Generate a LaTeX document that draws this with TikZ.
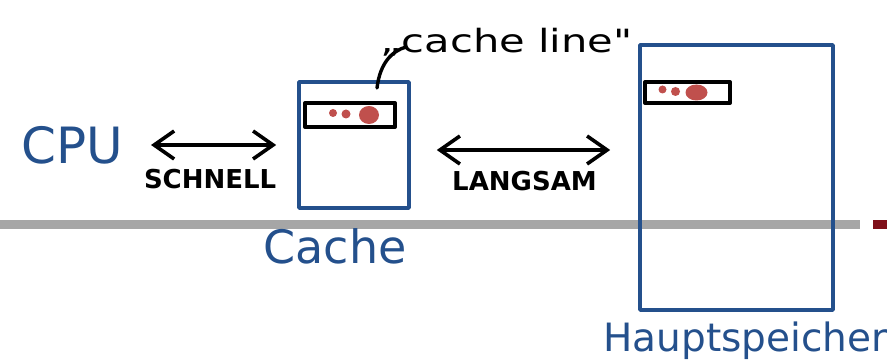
\documentclass[tikz,border=0pt]{standalone}
\usepackage{fontspec}
\setmainfont{DejaVu Sans}
\newfontfamily\handfont{DejaVu Sans}
\newfontfamily\handwide[FakeStretch=1.3]{DejaVu Sans}
\usetikzlibrary{arrows.meta,positioning}
\definecolor{penblue}{HTML}{24508C}
\definecolor{penred}{HTML}{C0504D}
\definecolor{bandgray}{HTML}{A6A6A6}
\definecolor{darkred}{HTML}{7F1019}

\begin{document}
\begin{tikzpicture}[x=1pt,y=-1pt,>={Straight Barb[length=20pt,width=28pt,line width=3.6pt]},line cap=round,line join=round]
  \tikzstyle{store}=[draw=penblue,line width=3.6pt,inner sep=0pt]
  \tikzstyle{cline}=[draw=black,line width=4pt,inner sep=0pt]
  \tikzstyle{hand}=[text=penblue,inner sep=0pt]
  \tikzstyle{speed}=[font=\bfseries\fontsize{26}{26}\selectfont,inner sep=0pt]
  \tikzstyle{dbl}=[line width=3.6pt,<->]
  \tikzstyle{blob}=[fill=penred,draw=none]
  \useasboundingbox (0,0) rectangle (887,363);
  % trennlinie
  \fill[bandgray] (0,220) rectangle (860,229);
  \fill[darkred] (873,220) rectangle (887,229);
  % speicher
  \node[store,minimum width=110pt,minimum height=126pt] (cache) at (354,145) {};
  \node[store,minimum width=193pt,minimum height=265pt] (mem) at (736.5,177.5) {};
  \node[cline,minimum width=90pt,minimum height=24pt] (line) at (350,115) {};
  \node[cline,minimum width=85pt,minimum height=21pt] (mline) at (687.5,92.5) {};
  \fill[blob] ([xshift=-17pt,yshift=2pt]line.center) circle (4);
  \fill[blob] ([xshift=-4pt,yshift=1pt]line.center) circle (4.5);
  \fill[blob] ([xshift=19pt]line.center) ellipse (10 and 9);
  \fill[blob] ([xshift=-25pt,yshift=3pt]mline.center) circle (4);
  \fill[blob] ([xshift=-12pt,yshift=1pt]mline.center) circle (4.5);
  \fill[blob] ([xshift=9pt]mline.center) ellipse (11 and 8);
  % beschriftung
  \node[hand,font=\handfont\fontsize{50}{50}\selectfont] (cpu) at (72,145) {CPU};
  \node[hand,font=\handfont\fontsize{46}{46}\selectfont,below=19pt of cache,xshift=-19pt] (cachelbl) {Cache};
  \node[hand,font=\handfont\fontsize{39}{39}\selectfont,below=10pt of mem,xshift=9pt] (memlbl) {Hauptspeicher};
  \node[inner sep=0pt,anchor=base west,font=\handwide\fontsize{32}{32}\selectfont] (linelbl) at (380,53) {„cache line"};
  % pfeile
  \draw[dbl,shorten <=28pt,shorten >=21pt] (cpu) -- (cpu -| cache.west)
    node[speed,midway,below=22pt] {SCHNELL};
  \draw[dbl,shorten <=26pt,shorten >=28pt] ([yshift=-5pt]cache.east) -- ([yshift=-5pt]cache.east -| mem.west)
    node[speed,midway,below=19pt] {LANGSAM};
  \draw[line width=3.4pt] ([xshift=27pt,yshift=13pt]line.north) .. controls +(3,-25) and +(-14,4) .. ([xshift=26pt,yshift=6pt]linelbl.base west);
\end{tikzpicture}
\end{document}
